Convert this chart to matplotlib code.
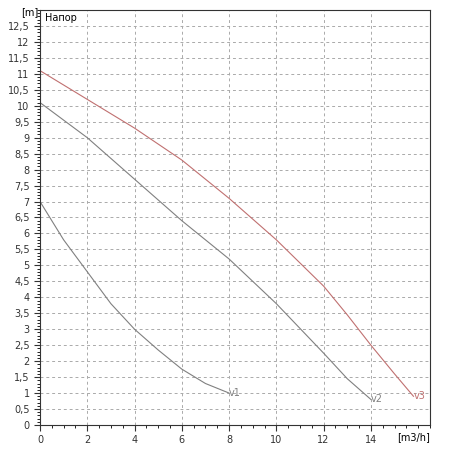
import matplotlib
matplotlib.use("Agg")
import matplotlib.pyplot as plt
from matplotlib.ticker import MultipleLocator

x1 = [0, 0.5, 1, 1.5, 2, 3, 4, 5, 6, 7, 8]
y1 = [7.0, 6.4, 5.8, 5.3, 4.8, 3.8, 3.0, 2.35, 1.75, 1.3, 1.0]
x2 = [0, 2, 4, 6, 8, 10, 12, 13, 14]
y2 = [10.1, 9.0, 7.7, 6.4, 5.2, 3.8, 2.25, 1.45, 0.8]
x3 = [0, 2, 4, 6, 8, 10, 12, 13, 14, 15, 15.8]
y3 = [11.1, 10.2, 9.3, 8.3, 7.1, 5.8, 4.35, 3.45, 2.5, 1.6, 0.9]
labels = ["v1", "v2", "v3"]

fig = plt.figure(figsize=(4.5, 4.5), dpi=100)
ax = fig.add_axes([40/450, 25/450, 390/450, 415/450])
gray = "#808080"; red = "#c07070"
for x, y, c, l in [(x1, y1, gray, labels[0]), (x2, y2, gray, labels[1]), (x3, y3, red, labels[2])]:
    ax.plot(x, y, color=c, lw=0.8)
    ax.text(x[-1], y[-1], l, color=c, fontsize=7, va="center", ha="left")
ax.set_xlim(0, 16.5)
ax.set_ylim(0, 13)
ax.xaxis.set_minor_locator(MultipleLocator(0.5))
ax.yaxis.set_minor_locator(MultipleLocator(0.1))
ax.set_xticks([0, 2, 4, 6, 8, 10, 12, 14])
ax.set_yticks([i*0.5 for i in range(26)])
ax.set_yticklabels([("%g" % (i*0.5)).replace(".", ",") for i in range(26)])
ax.grid(True, which="major", ls=(0, (3, 3)), color="#aaaaaa", lw=0.7)
ax.tick_params(labelsize=7, length=4, direction="out", colors="#333333")
ax.tick_params(which="minor", length=2, direction="out")
for s in ax.spines.values():
    s.set_color("#333333")
ax.text(0.2, 12.9, "Напор", fontsize=7, va="top")
fig.text(38/450, 1 - 12/450, "[m]", fontsize=7, ha="right", va="center")
fig.text(430/450, 1 - 437/450, "[m3/h]", fontsize=7, ha="right", va="center")
fig.savefig("out.png")
